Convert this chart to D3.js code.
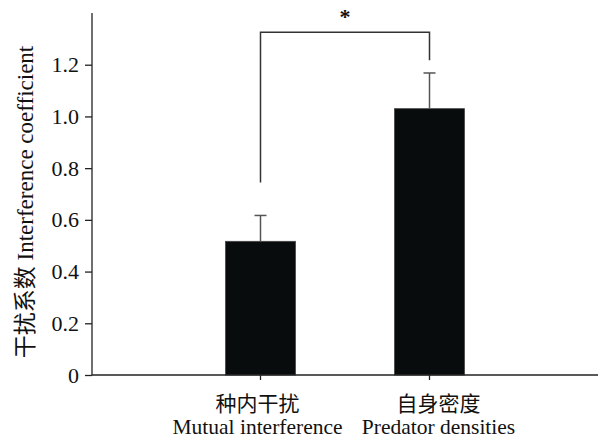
<!doctype html>
<html lang="zh">
  <head>
    <meta charset="utf-8" />
    <title>Interference coefficient</title>
    <style>
     body { margin: 0; background: #fff; }
     svg text { font-family: "Liberation Serif", "Noto Sans CJK SC", serif; fill: #111; }
     .domain, .tick line { stroke: #222; stroke-width: 1.3; }
    </style>
  </head>
  <body>
    <div id="chart"></div>
    <script src="https://cdn.jsdelivr.net/npm/d3@7"></script>
    <script>
    // data
    var groups = ["mutual", "predator"];
    var labelsCn = ["种内干扰", "自身密度"];
    var labelsEn = ["Mutual interference", "Predator densities"];
    var means = [0.517, 1.03];
    var errors = [0.10, 0.138];
    var yTicks = [0, 0.2, 0.4, 0.6, 0.8, 1.0, 1.2];
    // significance bracket: top level, and where each leg ends
    var bracketTop = 1.326;
    var bracketLegs = [0.744, 1.217];
    var sigMark = "*";

    var W = 601, H = 439;
    var svg = d3.select("#chart").append("svg")
      .attr("width", W).attr("height", H);

    var y = d3.scaleLinear().domain([0, 1.4]).range([375, 13]);
    var x = d3.scaleBand().domain(groups).range([92, 598])
      .paddingInner(0.586).paddingOuter(0.79);

    // bars
    svg.selectAll(".bar").data(groups).enter().append("rect")
      .attr("class", "bar")
      .attr("x", function(d) { return x(d); })
      .attr("width", x.bandwidth())
      .attr("y", function(d, i) { return y(means[i]); })
      .attr("height", function(d, i) { return y(0) - y(means[i]); })
      .attr("fill", "#080c0d")
      .attr("stroke", "#444")
      .attr("stroke-width", 0.8);

    // error bars (upper only)
    var eb = svg.selectAll(".err").data(groups).enter().append("g")
      .attr("class", "err")
      .attr("stroke", "#555").attr("stroke-width", 1.5);
    eb.append("line")
      .attr("x1", function(d) { return x(d) + x.bandwidth() / 2; })
      .attr("x2", function(d) { return x(d) + x.bandwidth() / 2; })
      .attr("y1", function(d, i) { return y(means[i]); })
      .attr("y2", function(d, i) { return y(means[i] + errors[i]); });
    eb.append("line")
      .attr("x1", function(d) { return x(d) + x.bandwidth() / 2 - 6; })
      .attr("x2", function(d) { return x(d) + x.bandwidth() / 2 + 6; })
      .attr("y1", function(d, i) { return y(means[i] + errors[i]); })
      .attr("y2", function(d, i) { return y(means[i] + errors[i]); });

    // axes
    var yAxis = svg.append("g")
      .attr("transform", "translate(92,0)")
      .call(d3.axisLeft(y).tickValues(yTicks).tickSize(7).tickPadding(6)
        .tickFormat(function(d) { return d === 0 ? "0" : d3.format(".1f")(d); }))
      .call(function(g) { g.select(".domain").attr("d", "M0," + y(1.4) + "V" + y(0)); });
    yAxis.selectAll("text").attr("font-size", 22);

    var xAxis = svg.append("g")
      .attr("transform", "translate(0," + y(0) + ")")
      .call(d3.axisBottom(x).tickSize(5).tickFormat(""))
      .call(function(g) { g.select(".domain").attr("d", "M92,0H598"); });

    var labelShift = [-3, 9];
    groups.forEach(function(g, i) {
      var cx = x(g) + x.bandwidth() / 2 + labelShift[i];
      svg.append("text").attr("x", cx).attr("y", 411)
        .attr("text-anchor", "middle").attr("font-size", 21).text(labelsCn[i]);
      svg.append("text").attr("x", cx).attr("y", 434)
        .attr("text-anchor", "middle").attr("font-size", 21.5).text(labelsEn[i]);
    });

    // y title
    svg.append("text")
      .attr("transform", "translate(33,202) rotate(-90)")
      .attr("text-anchor", "middle")
      .attr("font-size", 23)
      .text("干扰系数 Interference coefficient");

    // significance bracket
    var c0 = x(groups[0]) + x.bandwidth() / 2, c1 = x(groups[1]) + x.bandwidth() / 2;
    svg.append("path")
      .attr("d", "M" + c0 + "," + y(bracketLegs[0]) + "V" + y(bracketTop) +
                 "H" + c1 + "V" + y(bracketLegs[1]))
      .attr("fill", "none").attr("stroke", "#333").attr("stroke-width", 1.5);
    svg.append("text")
      .attr("x", (c0 + c1) / 2).attr("y", 24)
      .attr("text-anchor", "middle").attr("font-size", 22).attr("font-weight", "bold")
      .text(sigMark);
    </script>
  </body>
</html>
